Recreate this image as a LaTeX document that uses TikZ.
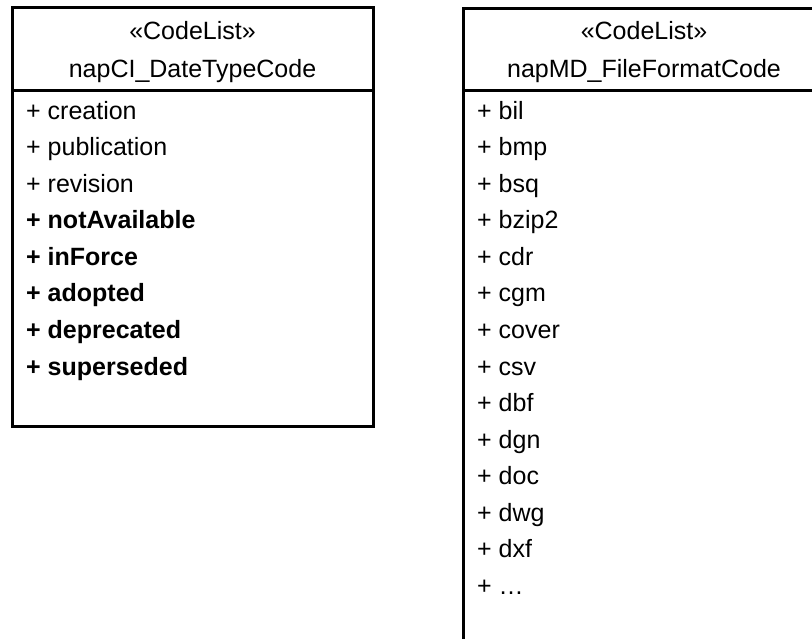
\documentclass[tikz,border=0pt]{standalone}
\usepackage{fontspec}
\setmainfont{Liberation Sans}
\begin{document}
\begin{tikzpicture}[x=1pt,y=-1pt,
  boxline/.style={line width=3pt},
  hdr/.style={anchor=base,inner sep=0pt,font=\fontsize{25}{30}\selectfont},
  item/.style={anchor=base west,inner sep=0pt,font=\fontsize{25}{30}\selectfont},
  bitem/.style={item,font=\fontsize{25}{30}\selectfont\bfseries}]
\useasboundingbox (0,0) rectangle (812,639);
\begin{scope}
\clip (0,0) rectangle (812,639);
% left box
\draw[boxline] (12,8) rectangle (373,426);
\draw[boxline] (12,90.5) -- (373,90.5);
% right box (extends beyond picture)
\draw[boxline] (830,9) -- (463,9) -- (463,650);
\draw[boxline] (463,90.5) -- (830,90.5);
\end{scope}
% left headers
\node[hdr] (l1) at (192.5,39.5) {«CodeList»};
\node[hdr] (l2) at (192.5,78) {napCI\_DateTypeCode};
\node[item]  (la) at (26,119.5) {+ creation};
\node[item]  (lb) at (26,156) {+ publication};
\node[item]  (lc) at (26,192.5) {+ revision};
\node[bitem] (ld) at (26,229) {+ notAvailable};
\node[bitem] (le) at (26,265.5) {+ inForce};
\node[bitem] (lf) at (26,302) {+ adopted};
\node[bitem] (lg) at (26,338.5) {+ deprecated};
\node[bitem] (lh) at (26,375) {+ superseded};
% right headers
\node[hdr] (r1) at (644,39.5) {«CodeList»};
\node[hdr] (r2) at (644,78) {napMD\_FileFormatCode};
\foreach \t [count=\i from 0] in {bil,bmp,bsq,bzip2,cdr,cgm,cover,csv,dbf,dgn,doc,dwg,dxf,…}
  \node[item] (r\i) at (477,119.5+36.5*\i) {+ \t};
\end{tikzpicture}
\end{document}
